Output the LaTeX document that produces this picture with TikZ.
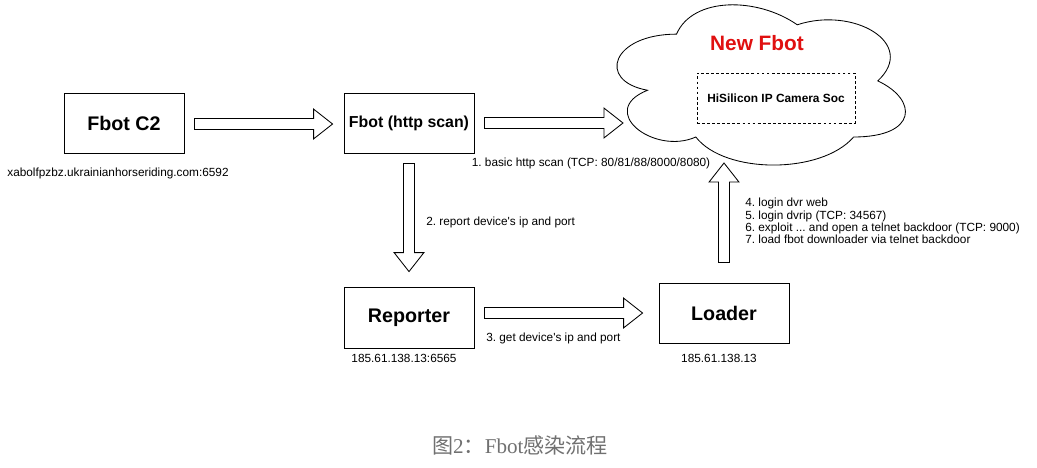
\documentclass[tikz,border=0pt]{standalone}
\usepackage{fontspec}
\setmainfont{Liberation Sans}[Ligatures=TeXOff]
\newfontfamily\cjk{Noto Sans CJK SC}
\newfontfamily\capfont{Liberation Serif}
\usetikzlibrary{calc}
\frenchspacing

\definecolor{fbotred}{HTML}{E01010}
\definecolor{capgray}{HTML}{707070}

% 空心箭头：从 #1 指向 #2
\newcommand{\fatarrow}[2]{%
  \coordinate (fa-base) at ($(#2)!13.5pt!(#1)$);
  \draw[hollow] ($(#1)!3.9pt!90:(#2)$) -- ($(fa-base)!3.9pt!-90:(#1)$)
    -- ($(fa-base)!10.6pt!-90:(#1)$) -- (#2) -- ($(fa-base)!10.6pt!90:(#1)$)
    -- ($(fa-base)!3.9pt!90:(#1)$) -- ($(#1)!3.9pt!-90:(#2)$) -- cycle;
}

\tikzset{
  box/.style={draw,line width=0.6pt,minimum width=3.25cm,minimum height=1.5cm,
    font=\bfseries\fontsize{14}{16}\selectfont},
  note/.style={inner sep=0pt,font=\fontsize{8.4}{8.7}\selectfont},
  hollow/.style={draw,line width=0.6pt,line join=miter,fill=white},
}

\begin{document}
\frenchspacing
\begin{tikzpicture}[x=0.025cm,y=-0.025cm]
  \useasboundingbox (0,0) rectangle (1037,467);
  % 云
  \begin{scope}[shift={(596,-12.6)},xscale=322,yscale=187]
    \draw[line width=0.6pt] (0.25,0.25) .. controls (0.05,0.25) and (0,0.5) .. (0.16,0.55)
      .. controls (0,0.66) and (0.18,0.9) .. (0.31,0.8)
      .. controls (0.4,1) and (0.7,1) .. (0.8,0.8)
      .. controls (1,0.8) and (1,0.6) .. (0.875,0.5)
      .. controls (1,0.3) and (0.8,0.1) .. (0.625,0.2)
      .. controls (0.5,0.05) and (0.3,0.05) .. (0.25,0.25) -- cycle;
  \end{scope}
  \node[font=\bfseries\fontsize{14.8}{16}\selectfont,text=fbotred] (newfbot) at (757,43) {New Fbot};
  \node[draw,line width=0.6pt,dash pattern=on 2pt off 1.6pt,minimum width=3.95cm,minimum height=1.25cm,
    font=\bfseries\fontsize{8.45}{10}\selectfont] (soc) at (776,98) {HiSilicon IP Camera Soc};
  % 方框
  \node[box,minimum width=3cm] (c2) at (124,123) {Fbot C2};
  \node[box,font=\bfseries\fontsize{11.3}{13}\selectfont] (scan) at (409,123) {Fbot (http scan)};
  \node[box,minimum height=1.525cm] (reporter) at (409,317.5) {Reporter};
  \node[box] (loader) at (724,313) {Loader};
  % 文字
  \node[note] (c2addr) at (118,173) {xabolfpzbz.ukrainianhorseriding.com:6592};
  \node[note] (step1) at (591,163) {1. basic http scan (TCP: 80/81/88/8000/8080)};
  \node[note,anchor=west] (step2) at (426,222) {2. report device's ip and port};
  \node[note,anchor=west] (step3) at (486,338) {3. get device's ip and port};
  \node[note,anchor=west,align=left] (step4) at (745,221) {4. login dvr web\\
    5. login dvrip (TCP: 34567)\\
    6. exploit ... and open a telnet backdoor (TCP: 9000)\\
    7. load fbot downloader via telnet backdoor};
  \node[note] (repaddr) at (404,358) {185.61.138.13:6565};
  \node[note] (loadaddr) at (719,358) {185.61.138.13};
  % 箭头
  \coordinate (a1s) at ($(c2.east)+(10,1)$);
  \coordinate (a1e) at ($(scan.west)+(-11,1)$);
  \coordinate (a2s) at ($(scan.east)+(10,0)$);
  \coordinate (cloudin) at (623,123);
  \coordinate (a3s) at ($(scan.south)+(0,10)$);
  \coordinate (a3e) at ($(reporter.north)+(0,-15)$);
  \coordinate (a4s) at ($(reporter.east)+(10,-4.5)$);
  \coordinate (a4e) at ($(loader.west)+(-16,0)$);
  \coordinate (a5s) at ($(loader.north)+(0,-20)$);
  \coordinate (cloudout) at (724,163);
  \fatarrow{a1s}{a1e}
  \fatarrow{a2s}{cloudin}
  \fatarrow{a3s}{a3e}
  \fatarrow{a4s}{a4e}
  \fatarrow{a5s}{cloudout}
  % 图题
  \node[font=\fontsize{15}{18}\selectfont,text=capgray] (caption) at (520,445)
    {{\cjk 图}{\capfont 2}{\cjk ：}{\capfont Fbot}{\cjk 感染流程}};
\end{tikzpicture}
\end{document}
